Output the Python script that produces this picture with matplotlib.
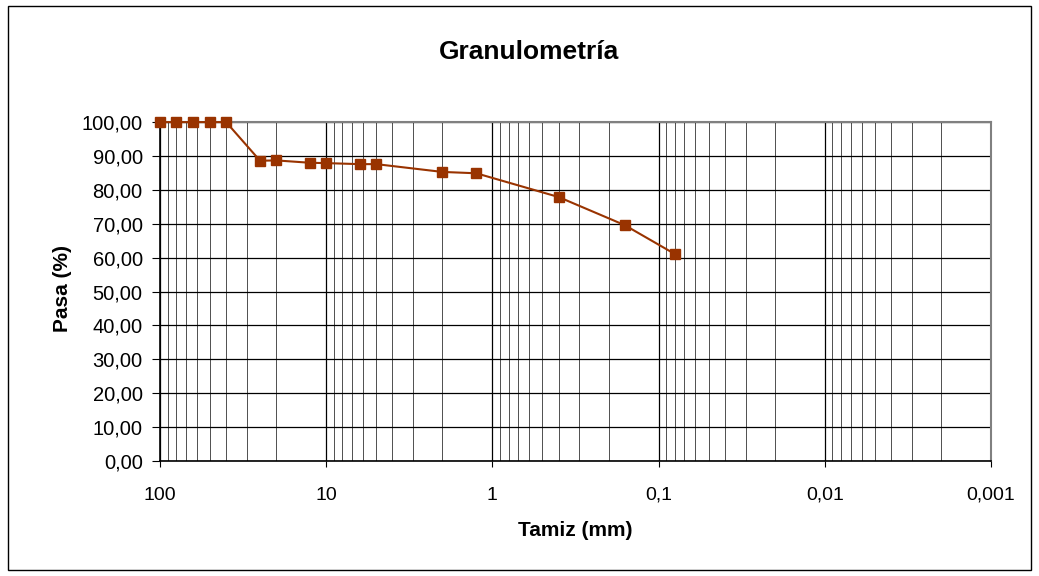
import matplotlib.pyplot as plt
from matplotlib.ticker import FixedLocator, FuncFormatter, LogLocator, NullFormatter
from matplotlib.patches import Rectangle

plt.rcParams['font.family'] = ['Liberation Sans', 'DejaVu Sans']

# sieve openings (mm) and percent passing
tamiz = [100, 80, 63, 50, 40, 25, 20, 12.5, 10, 6.3, 5, 2, 1.25, 0.4, 0.16, 0.08]
pasa = [100.0, 100.0, 100.0, 100.0, 100.0, 88.6, 88.7, 88.0, 87.9, 87.6, 87.6,
        85.3, 84.9, 77.9, 69.6, 61.1]

x_ticks = [100, 10, 1, 0.1, 0.01, 0.001]
x_labels = ['100', '10', '1', '0,1', '0,01', '0,001']
y_ticks = list(range(0, 101, 10))

color = '#993300'

fig = plt.figure(figsize=(10.39, 5.76), dpi=100)
ax = fig.add_axes([0.154, 0.1997, 0.7998, 0.5883])

ax.set_xscale('log')
ax.set_xlim(100, 0.001)
ax.set_ylim(0, 100)

ax.xaxis.set_major_locator(FixedLocator(x_ticks))
ax.set_xticklabels(x_labels)
ax.xaxis.set_minor_locator(LogLocator(base=10, subs=range(2, 10)))
ax.xaxis.set_minor_formatter(NullFormatter())
ax.set_yticks(y_ticks)
ax.yaxis.set_major_formatter(FuncFormatter(lambda v, p: f'{v:.2f}'.replace('.', ',')))

ax.grid(True, which='major', axis='both', color='black', lw=0.9)
ax.grid(True, which='minor', axis='x', color='black', lw=0.6, alpha=0.8)

ax.plot(tamiz, pasa, '-s', color=color, lw=1.5, markersize=6.5, clip_on=False, zorder=5)

ax.tick_params(axis='both', which='major', labelsize=14, direction='out', color='black')
ax.tick_params(axis='y', which='major', labelsize=14.5)
ax.tick_params(axis='x', which='minor', length=0)
ax.tick_params(axis='x', which='major', length=4.5, pad=14)
ax.tick_params(axis='y', which='major', length=5.5, pad=7)

for s in ['top', 'right']:
    ax.spines[s].set_color('#808080')
    ax.spines[s].set_linewidth(1.5)
for s in ['left', 'bottom']:
    ax.spines[s].set_color('black')
    ax.spines[s].set_linewidth(1.2)

fig.text(575.5 / 1039, 1 - 530 / 576, 'Tamiz (mm)', ha='center', va='center',
         fontsize=15, fontweight='bold')
fig.text(62 / 1039, 1 - 288 / 576, 'Pasa (%)', ha='center', va='center',
         rotation=90, fontsize=15, fontweight='bold')
fig.text(528.5 / 1039, 1 - 52 / 576, 'Granulometría', ha='center', va='center',
         fontsize=19, fontweight='bold')

fig.patches.append(Rectangle((8 / 1039, 6 / 576), 1023 / 1039, 564 / 576,
                             transform=fig.transFigure, fill=False,
                             edgecolor='black', lw=1.0))

fig.savefig('out.png', dpi=100)
